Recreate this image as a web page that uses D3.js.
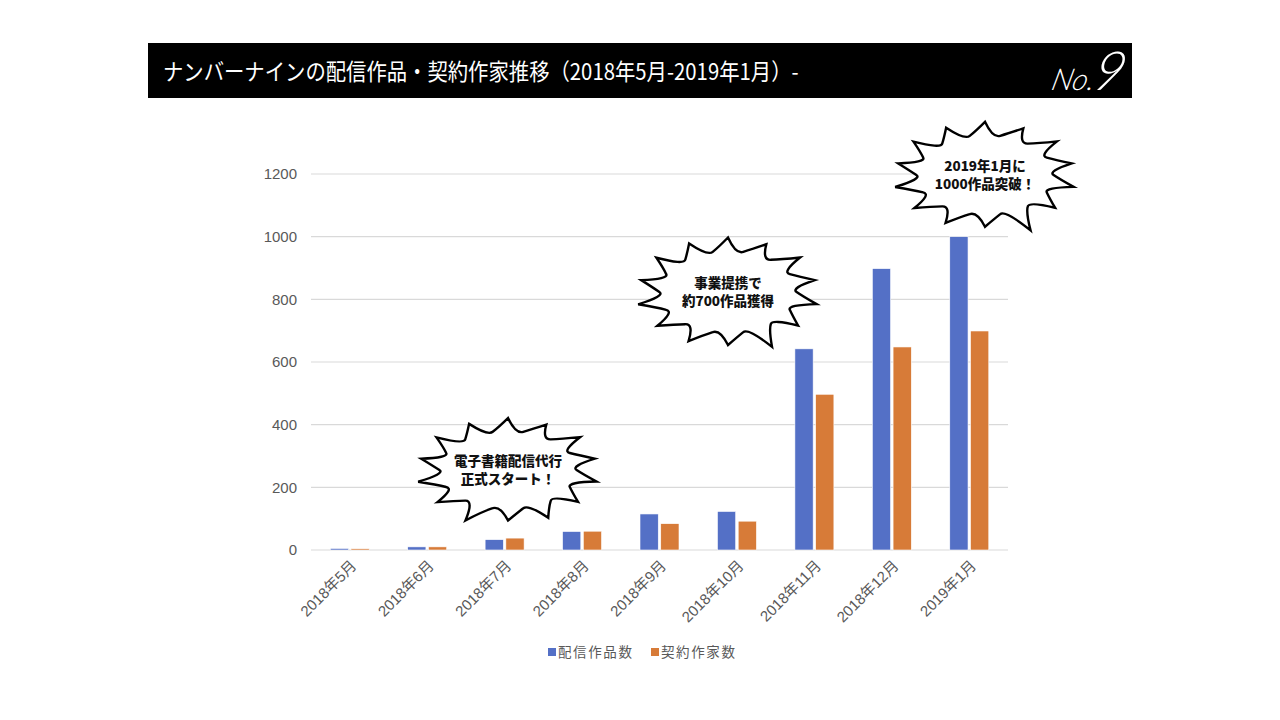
<!DOCTYPE html>
<html>
<head>
<meta charset="utf-8">
<script src="https://cdn.jsdelivr.net/npm/d3@7"></script>
<style>
  body { margin: 0; background: #fff; }
  svg { display: block; font-family: "Liberation Sans", "Noto Sans CJK JP", sans-serif; }
</style>
</head>
<body>
<svg id="chart" width="1280" height="720"></svg>
<script>
// data
var months = ["2018年5月", "2018年6月", "2018年7月", "2018年8月", "2018年9月",
              "2018年10月", "2018年11月", "2018年12月", "2019年1月"];
var works = [5, 10, 33, 59, 115, 123, 642, 898, 1000];     // 配信作品数
var authors = [4, 10, 38, 60, 84, 92, 497, 648, 699];      // 契約作家数
var seriesNames = ["配信作品数", "契約作家数"];
var yTicks = [0, 200, 400, 600, 800, 1000, 1200];
var title = "ナンバーナインの配信作品・契約作家推移（2018年5月-2019年1月）-";
var notes = [
  { month: "2018年8月", lines: ["電子書籍配信代行", "正式スタート！"] },
  { month: "2018年11月", lines: ["事業提携で", "約700作品獲得"] },
  { month: "2019年1月", lines: ["2019年1月に", "1000作品突破！"] }
];

var svg = d3.select("#chart");
var colors = ["#5470c6", "#d77b38"];

// header bar
svg.append("rect")
  .attr("x", 148).attr("y", 43).attr("width", 984).attr("height", 55)
  .attr("fill", "#000");

svg.append("text")
  .attr("transform", "translate(163,80) scale(0.885,1)")
  .attr("fill", "#fff")
  .attr("font-family", "'Noto Sans CJK JP', sans-serif")
  .attr("font-size", 23)
  .text(title);

var logo = svg.append("text")
  .attr("transform", "translate(1050,90) skewX(-14)")
  .attr("fill", "#fff")
  .attr("font-family", "Lato, sans-serif")
  .attr("font-weight", 300)
  .attr("font-style", "italic");
logo.append("tspan").attr("font-size", 30).text("No.");
logo.append("tspan").attr("font-size", 54).attr("dx", -3).text("9");

// scales
var x = d3.scaleBand().domain(months).range([311, 1008]);
var x1 = d3.scaleBand().domain(seriesNames).range([0, 39]).paddingInner(0.12);
var y = d3.scaleLinear().domain([0, 1200]).range([550, 174]);

// grid
svg.append("g")
  .selectAll("line")
  .data(yTicks)
  .enter()
  .append("line")
  .attr("x1", 311).attr("x2", 1008)
  .attr("y1", function (d) { return y(d); })
  .attr("y2", function (d) { return y(d); })
  .attr("stroke", "#d9d9d9")
  .attr("stroke-width", 1.2);

// y axis labels
svg.append("g")
  .attr("transform", "translate(297,0)")
  .call(d3.axisLeft(y).tickValues(yTicks).tickFormat(d3.format("d")).tickSize(0).tickPadding(0))
  .call(function (g) { g.select(".domain").remove(); })
  .selectAll("text")
  .attr("font-family", "'Liberation Sans', sans-serif")
  .attr("font-size", 15)
  .attr("fill", "#595959");

// bars
var table = months.map(function (m, i) {
  return { month: m, values: [works[i], authors[i]] };
});

var groups = svg.append("g")
  .selectAll("g")
  .data(table)
  .enter()
  .append("g")
  .attr("transform", function (d) {
    return "translate(" + (x(d.month) + x.bandwidth() / 2 - 19.5) + ",0)";
  });

groups.selectAll("rect")
  .data(function (d) { return d.values; })
  .enter()
  .append("rect")
  .attr("x", function (d, i) { return x1(seriesNames[i]); })
  .attr("width", x1.bandwidth())
  .attr("y", function (d) { return y(d); })
  .attr("height", function (d) { return y(0) - y(d); })
  .attr("fill", function (d, i) { return colors[i]; })
  .attr("stroke", "#fff")
  .attr("stroke-width", 0.6);

// x axis labels
svg.append("g")
  .selectAll("text")
  .data(months)
  .enter()
  .append("text")
  .attr("transform", function (d) {
    return "translate(" + (x(d) + x.bandwidth() / 2 + 4) + ",563) rotate(-45)";
  })
  .attr("text-anchor", "end")
  .attr("dy", "0.35em")
  .attr("font-size", 15)
  .attr("fill", "#595959")
  .text(function (d) { return d; });

// legend
var legend = svg.append("g")
  .selectAll("g")
  .data(seriesNames)
  .enter()
  .append("g")
  .attr("transform", function (d, i) { return "translate(548," + 648 + ") translate(" + (i * 103) + ",0)"; });

legend.append("rect")
  .attr("width", 8).attr("height", 8)
  .attr("fill", function (d, i) { return colors[i]; });

legend.append("text")
  .attr("x", 10).attr("y", 4)
  .attr("dy", "0.36em")
  .attr("font-size", 13.5)
  .attr("letter-spacing", 1.6)
  .attr("fill", "#595959")
  .text(function (d) { return d; });

// spiky callouts
var spikes = [1.0, 0.8, 1.1, 0.85, 1.0, 0.9, 1.15, 0.8, 1.0, 0.95, 1.1, 0.85, 1.05, 0.9];

function burst(cx, cy, rx, ry, tailIndex, tailLen) {
  var n = spikes.length;
  var pts = [];
  for (var i = 0; i < n; i++) {
    var a = -Math.PI / 2 + (i / n) * Math.PI * 2;
    var k = spikes[i];
    var out = i === tailIndex ? tailLen : 1.28 + 0.18 * (k - 0.9);
    pts.push({
      tx: cx + Math.cos(a) * rx * out,
      ty: cy + Math.sin(a) * ry * out,
      a: a
    });
  }
  var p = d3.path();
  p.moveTo(pts[0].tx, pts[0].ty);
  for (var j = 0; j < n; j++) {
    var t0 = pts[j], t1 = pts[(j + 1) % n];
    var am = t0.a + Math.PI / n;
    var vx = cx + Math.cos(am) * rx * 0.98, vy = cy + Math.sin(am) * ry * 0.98;
    var a1 = t0.a + Math.PI / n * 0.55, a2 = t0.a + Math.PI / n * 1.45;
    // tip -> valley (curved inward)
    p.quadraticCurveTo(cx + Math.cos(a1) * rx * 0.9, cy + Math.sin(a1) * ry * 0.9, vx, vy);
    // valley -> next tip (small scallop)
    p.quadraticCurveTo(cx + Math.cos(a2) * rx * 1.08, cy + Math.sin(a2) * ry * 1.08, t1.tx, t1.ty);
  }
  p.closePath();
  return p.toString();
}

var noteBoxes = [
  { cx: 508, cy: 470, rx: 70, ry: 40, tail: 8, tailLen: 1.4 },
  { cx: 728, cy: 292, rx: 70, ry: 42, tail: 6, tailLen: 1.45 },
  { cx: 985, cy: 175, rx: 70, ry: 41, tail: 6, tailLen: 1.5 }
];

var callouts = svg.append("g")
  .selectAll("g")
  .data(notes)
  .enter()
  .append("g");

callouts.append("path")
  .attr("d", function (d, i) {
    var b = noteBoxes[i];
    return burst(b.cx, b.cy, b.rx, b.ry, b.tail, b.tailLen);
  })
  .attr("fill", "#fff")
  .attr("stroke", "#000")
  .attr("stroke-width", 2.4)
  .attr("stroke-linejoin", "miter");

callouts.each(function (d, i) {
  var b = noteBoxes[i];
  d3.select(this).selectAll("text")
    .data(d.lines)
    .enter()
    .append("text")
    .attr("x", b.cx)
    .attr("y", function (t, k) { return b.cy - 4 + k * 18; })
    .attr("text-anchor", "middle")
    .attr("font-family", "'Noto Sans CJK JP', sans-serif")
    .attr("font-weight", 900)
    .attr("font-size", 13.5)
    .attr("fill", "#111")
    .text(function (t) { return t; });
});
</script>
</body>
</html>
